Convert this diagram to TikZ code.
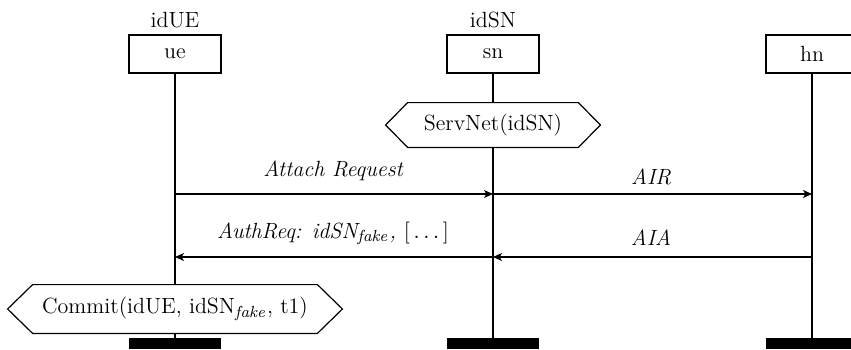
\documentclass[tikz,border=0pt]{standalone}
\usetikzlibrary{arrows.meta,calc}
\begin{document}
\begin{tikzpicture}[x=0.5pt,y=-0.5pt,
  font=\fontsize{11}{13}\selectfont,
  actor/.style={draw,line width=0.6pt,minimum width=46pt,minimum height=19pt,inner sep=0pt,fill=white},
  idlbl/.style={inner sep=0pt},
  bar/.style={fill=black,minimum width=46pt,minimum height=5.5pt,inner sep=0pt},
  life/.style={line width=0.9pt},
  msg/.style={line width=0.6pt,-{Stealth[length=4.5pt,width=4pt,inset=1.2pt]}},
  mlbl/.style={inner sep=0pt,font=\fontsize{11}{13}\selectfont\itshape},
  hexin/.style={inner sep=0pt,fill=white},
  hexline/.style={draw,line width=0.6pt,fill=white}]
\useasboundingbox (0,0) rectangle (851,349);
% actors
\node[idlbl] (idue) at (175,20) {idUE};
\node[idlbl] (idsn) at (493,20) {idSN};
\node[actor] (ue) at (175,54) {ue};
\node[actor] (sn) at (493,54) {sn};
\node[actor] (hn) at (812,54) {hn};
\node[bar] (ueb) at (175,343.5) {};
\node[bar] (snb) at (493,343.5) {};
\node[bar] (hnb) at (812,343.5) {};
% lifelines
\draw[life] (ue.south) -- (ueb.north);
\draw[life] (sn.south) -- (snb.north);
\draw[life] (hn.south) -- (hnb.north);
% ServNet hexagon
\node[hexin,minimum width=85pt,minimum height=22pt] (sv) at (493,125) {};
\draw[hexline] (sv.north west) -- (sv.north east) -- ($(sv.east)+(22,0)$) -- (sv.south east) -- (sv.south west) -- ($(sv.west)-(22,0)$) -- cycle;
\node[inner sep=0pt] (svt) at (sv.center) {ServNet(idSN)};
% Commit hexagon
\node[hexin,minimum width=142pt,minimum height=24pt] (cm) at (175,309) {};
\draw[hexline] (cm.north west) -- (cm.north east) -- ($(cm.east)+(25,0)$) -- (cm.south east) -- (cm.south west) -- ($(cm.west)-(25,0)$) -- cycle;
\node[inner sep=0pt] (cmt) at (cm.center) {Commit(idUE, idSN$_{\mathit{fake}}$, t1)};
% message points
\coordinate (ue1) at (175,194);
\coordinate (sn1) at (493,194);
\coordinate (hn1) at (812,194);
\coordinate (ue2) at (175,257);
\coordinate (sn2) at (493,257);
\coordinate (hn2) at (812,257);
\draw[msg] (ue1) -- (sn1);
\draw[msg] (sn1) -- (hn1);
\draw[msg] (sn2) -- (ue2);
\draw[msg] (hn2) -- (sn2);
\node[mlbl] (l1) at (333,171) {Attach Request};
\node[mlbl] (l2) at (651,177) {AIR};
\node[mlbl] (l3) at (333,233) {AuthReq: idSN$_{\mathit{fake}}$, \upshape$\big[\ldots\big]$};
\node[mlbl] (l4) at (651,238) {AIA};
\end{tikzpicture}
\end{document}
